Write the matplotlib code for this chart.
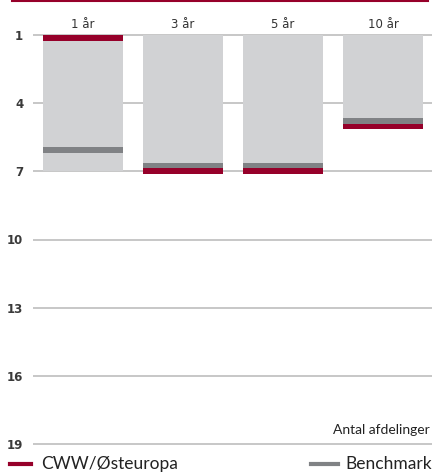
import matplotlib
matplotlib.use("Agg")
import matplotlib.pyplot as plt
import matplotlib.transforms as mtransforms

periods = ['1 år', '3 år', '5 år', '10 år']
bar_start = [1, 1, 1, 1]
bar_end = [7, 7, 7, 5.14]
fund_pos = [1.13, 6.99, 6.99, 5.02]
bench_pos = [6.07, 6.77, 6.77, 4.79]
yticks = [1, 4, 7, 10, 13, 16, 19]

RED = '#96002a'
GREY = '#808285'
LIGHT = '#d1d2d4'
band = 0.25

fig = plt.figure(figsize=(4.33, 4.74), dpi=100)
ax = fig.add_axes([33 / 433, 1 - 444 / 474, 399 / 433, 409 / 474])

x = range(len(periods))
ax.hlines(yticks, -0.5, 3.49, color='#bdbdbd', lw=1.2, zorder=1, clip_on=False)
ax.bar(x, [e - s for s, e in zip(bar_start, bar_end)], bottom=bar_start,
       width=0.8, color=LIGHT, zorder=2)
ax.bar(x, band, bottom=[b - band / 2 for b in bench_pos], width=0.8,
       color=GREY, zorder=3, clip_on=False)
ax.bar(x, band, bottom=[f - band / 2 for f in fund_pos], width=0.8,
       color=RED, zorder=4, clip_on=False)

ax.set_xlim(-0.5, 3.49)
ax.set_ylim(19, 1)
ax.set_yticks(yticks)
ax.set_yticklabels([str(t) for t in yticks], fontsize=8.5, color='#3a3a3a',
                   fontweight='bold')
ax.tick_params(axis='y', length=0, pad=7)
ax.set_xticks([])
for s in ax.spines.values():
    s.set_visible(False)

trans = mtransforms.blended_transform_factory(ax.transData, fig.transFigure)
for i, p in enumerate(periods):
    ax.text(i, 1 - 24 / 474, p, transform=trans, ha='center', va='center',
            fontsize=8.5, color='#333333')

# top red rule
fig.add_artist(plt.Line2D([12 / 433, 428 / 433], [1 - 1 / 474] * 2,
                          color=RED, lw=1.5, transform=fig.transFigure))

fig.text(430 / 433, 1 - 430 / 474, 'Antal afdelinger', ha='right', va='center',
         fontsize=10, family='Lato', color='#222222')

# legend
fig.add_artist(plt.Line2D([10 / 433, 31 / 433], [1 - 464 / 474] * 2,
                          color=RED, lw=3, transform=fig.transFigure))
fig.text(41 / 433, 1 - 464 / 474, 'CWW/Østeuropa', ha='left', va='center',
         fontsize=12.5, family='Lato', color='#222222')
fig.add_artist(plt.Line2D([311 / 433, 338 / 433], [1 - 464 / 474] * 2,
                          color=GREY, lw=3, transform=fig.transFigure))
fig.text(432 / 433, 1 - 464 / 474, 'Benchmark', ha='right', va='center',
         fontsize=12.5, family='Lato', color='#222222')

fig.savefig('out.png', dpi=100)
